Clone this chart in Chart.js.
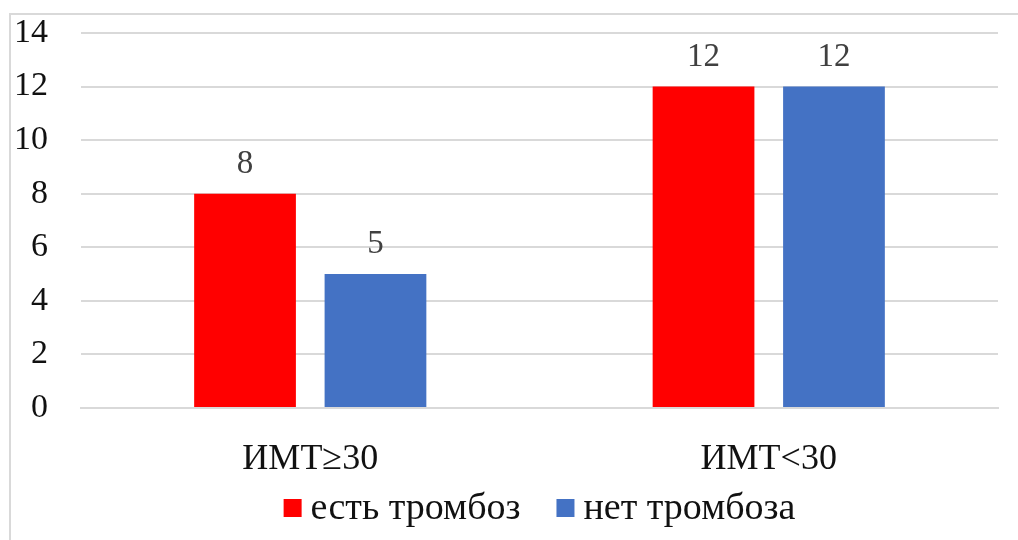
<!DOCTYPE html>
<html>
<head>
<meta charset="utf-8">
<script src="https://cdn.jsdelivr.net/npm/chart.js@4.4.1/dist/chart.umd.min.js"></script>
<style>
  html, body { margin: 0; padding: 0; background: #ffffff; }
  #wrap { position: relative; width: 1018px; height: 540px; }
</style>
</head>
<body>
<div id="wrap"><canvas id="c" width="1018" height="540"></canvas></div>
<script>
// Число пациентов по группам ИМТ
const categories = ['ИМТ≥30', 'ИМТ<30'];
const seriesNames = ['есть тромбоз', 'нет тромбоза'];
const withThrombosis = [8, 12];
const withoutThrombosis = [5, 12];
const yTicks = [0, 2, 4, 6, 8, 10, 12, 14];

const serif = "'Liberation Serif', 'Times New Roman', serif";
const colors = ['#ff0000', '#4472c4'];

// light frame around the chart
const framePlugin = {
  id: 'frame',
  beforeDraw(chart) {
    const ctx = chart.ctx;
    ctx.save();
    ctx.strokeStyle = '#d9d9d9';
    ctx.lineWidth = 2;
    ctx.beginPath();
    ctx.moveTo(10, chart.height);
    ctx.lineTo(10, 14);
    ctx.lineTo(chart.width, 14);
    ctx.stroke();
    ctx.restore();
  }
};

// values above each bar
const valueLabels = {
  id: 'valueLabels',
  afterDatasetsDraw(chart) {
    const ctx = chart.ctx;
    ctx.save();
    ctx.font = '33px ' + serif;
    ctx.fillStyle = '#404040';
    ctx.textAlign = 'center';
    ctx.textBaseline = 'alphabetic';
    chart.data.datasets.forEach((ds, i) => {
      chart.getDatasetMeta(i).data.forEach((bar, j) => {
        ctx.fillText(String(ds.data[j]), bar.x, bar.y - 21);
      });
    });
    ctx.restore();
  }
};

// legend row under the category labels
const bottomLegend = {
  id: 'bottomLegend',
  afterDraw(chart) {
    const ctx = chart.ctx;
    ctx.save();
    ctx.font = '38px ' + serif;
    ctx.textBaseline = 'middle';
    ctx.textAlign = 'left';
    const box = 18, gapText = 9, gapItem = 36, yMid = 508;
    const items = chart.data.datasets.map(ds => ({
      label: ds.label, color: ds.backgroundColor,
      w: box + gapText + ctx.measureText(ds.label).width
    }));
    const total = items.reduce((s, it) => s + it.w, 0) + gapItem * (items.length - 1);
    let x = (chart.chartArea.left + chart.chartArea.right) / 2 - total / 2;
    items.forEach(it => {
      ctx.fillStyle = it.color;
      ctx.fillRect(x, yMid - box / 2, box, box);
      ctx.fillStyle = '#111111';
      ctx.fillText(it.label, x + box + gapText, yMid + 1);
      x += it.w + gapItem;
    });
    ctx.restore();
  }
};

new Chart(document.getElementById('c'), {
  type: 'bar',
  data: {
    labels: categories,
    datasets: [
      { label: seriesNames[0], data: withThrombosis, backgroundColor: colors[0] },
      { label: seriesNames[1], data: withoutThrombosis, backgroundColor: colors[1] }
    ]
  },
  options: {
    responsive: false,
    animation: false,
    devicePixelRatio: 1,
    layout: { padding: { top: 33, left: 10, right: 20, bottom: 0 } },
    datasets: { bar: { categoryPercentage: 0.569, barPercentage: 0.78 } },
    plugins: { legend: { display: false }, tooltip: { enabled: false } },
    scales: {
      x: {
        grid: { display: false, drawTicks: false },
        border: { display: true, color: '#d9d9d9', width: 2 },
        ticks: { font: { family: serif, size: 36 }, color: '#111111', padding: 30 },
        afterFit(s) { s.height = 132; }
      },
      y: {
        min: 0, max: 14,
        afterBuildTicks(s) { s.ticks = yTicks.map(v => ({ value: v })); },
        grid: { color: '#d9d9d9', lineWidth: 2, drawTicks: true, tickLength: 33, tickColor: 'rgba(0,0,0,0)' },
        border: { display: false },
        ticks: { font: { family: serif, size: 34 }, color: '#111111', padding: 0 },
        afterFit(s) { s.width = 71; }
      }
    }
  },
  plugins: [framePlugin, valueLabels, bottomLegend]
});
</script>
</body>
</html>
